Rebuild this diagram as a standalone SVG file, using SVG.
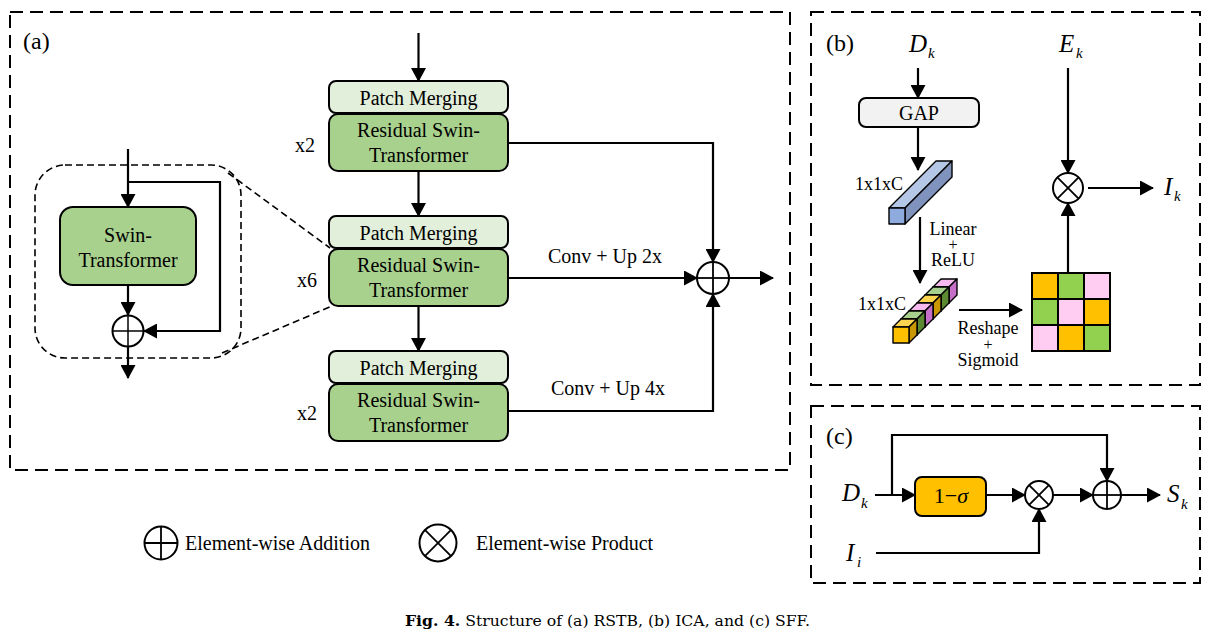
<svg xmlns="http://www.w3.org/2000/svg" width="1212" height="638" viewBox="0 0 1212 638">
<style>
text{font-family:"Liberation Serif","Times New Roman",serif;fill:#000}
.t20{font-size:20px}
.t18{font-size:18px}
.c{text-anchor:middle}
.it{font-style:italic}
.panel{fill:none;stroke:#000;stroke-width:2;stroke-dasharray:13 7}
.dash{fill:none;stroke:#000;stroke-width:1.6;stroke-dasharray:7 4}
.pm{fill:#e2efda;stroke:#000;stroke-width:2}
.rs{fill:#a9d18e;stroke:#000;stroke-width:2}
.ln{fill:none;stroke:#000;stroke-width:2.2}
.op{fill:#fff;stroke:#000;stroke-width:2}
.cube{stroke:#000;stroke-width:1.4;stroke-linejoin:round}
</style>
<defs>
<marker id="arr" markerUnits="userSpaceOnUse" markerWidth="14" markerHeight="15" viewBox="0 0 14 15" refX="13" refY="7.5" orient="auto">
<path d="M0,0 L14,7.5 L0,15 z" fill="#000"/>
</marker>
</defs>
<rect fill="#fff" x="0" y="0" width="1212" height="638"/>

<!-- panel borders -->
<rect class="panel" x="10" y="12" width="780" height="458"/>
<rect class="panel" x="811" y="12" width="389" height="373"/>
<rect class="panel" x="811" y="406" width="389" height="177"/>
<text x="23" y="49" style="font-size:24px">(a)</text>
<text x="826" y="51" style="font-size:24px">(b)</text>
<text x="826" y="444" style="font-size:24px">(c)</text>

<!-- panel a: inset -->
<g id="inset">
<rect class="dash" x="35" y="165" width="206" height="193" rx="30"/>
<line class="dash" x1="228" y1="173" x2="330" y2="248"/>
<line class="dash" x1="222" y1="353" x2="332" y2="306"/>
</g>
<g id="swin">
<rect class="rs" x="60" y="207" width="136" height="78" rx="13"/>
<text class="t20 c" x="128" y="242">Swin-</text>
<text class="t20 c" x="128" y="267">Transformer</text>
</g>
<g id="inset-add">
<circle class="op" cx="128" cy="331" r="15.5"/>
<line class="ln" x1="112.5" y1="331" x2="143.5" y2="331" style="stroke-width:1.5"/>
<line class="ln" x1="128" y1="315.5" x2="128" y2="346.5" style="stroke-width:1.5"/>
</g>

<!-- panel a: stages -->
<g id="stage1">
<rect class="pm" x="329" y="81" width="179" height="32" rx="7"/>
<text class="t20 c" x="418.5" y="105">Patch Merging</text>
<rect class="rs" x="329" y="114" width="179" height="57" rx="9"/>
<text class="t20 c" x="418.5" y="137">Residual Swin-</text>
<text class="t20 c" x="418.5" y="162">Transformer</text>
<text class="t20" x="295" y="152">x2</text>
</g>
<g id="stage2">
<rect class="pm" x="329" y="216" width="179" height="32" rx="7"/>
<text class="t20 c" x="418.5" y="240">Patch Merging</text>
<rect class="rs" x="329" y="249" width="179" height="57" rx="9"/>
<text class="t20 c" x="418.5" y="272">Residual Swin-</text>
<text class="t20 c" x="418.5" y="297">Transformer</text>
<text class="t20" x="297" y="287">x6</text>
</g>
<g id="stage3">
<rect class="pm" x="329" y="351" width="179" height="32" rx="7"/>
<text class="t20 c" x="418.5" y="375">Patch Merging</text>
<rect class="rs" x="329" y="384" width="179" height="57" rx="9"/>
<text class="t20 c" x="418.5" y="407">Residual Swin-</text>
<text class="t20 c" x="418.5" y="432">Transformer</text>
<text class="t20" x="297" y="420">x2</text>
</g>
<g id="add-a">
<circle class="op" cx="713" cy="278" r="16"/>
<line class="ln" x1="697" y1="278" x2="729" y2="278" style="stroke-width:1.8"/>
<line class="ln" x1="713" y1="262" x2="713" y2="294" style="stroke-width:1.8"/>
</g>
<text class="t20 c" x="605" y="263">Conv + Up 2x</text>
<text class="t20 c" x="608" y="395">Conv + Up 4x</text>

<!-- panel b nodes -->
<g id="b-labels">
<text class="it" x="909" y="52" style="font-size:25px">D</text>
<text class="it" x="928" y="58" style="font-size:15px">k</text>
<text class="it" x="1059" y="52" style="font-size:25px">E</text>
<text class="it" x="1076" y="58" style="font-size:15px">k</text>
<text class="it" x="1164" y="195" style="font-size:25px">I</text>
<text class="it" x="1174" y="201" style="font-size:15px">k</text>
</g>
<g id="gap">
<rect x="859" y="98" width="120" height="29" rx="7" fill="#f2f2f2" stroke="#000" stroke-width="2"/>
<text class="t20 c" x="919" y="120">GAP</text>
</g>
<g id="bluebar">
<polygon class="cube" fill="#b4c7e7" points="889,208 905,208 952,161 936,161"/>
<polygon class="cube" fill="#7f93bd" points="905,208 952,161 952,177 905,224"/>
<rect class="cube" fill="#8faadc" x="889" y="208" width="16" height="16"/>
<text class="t18" x="855" y="190">1x1xC</text>
</g>
<g id="lin-label">
<text class="t18 c" x="953" y="235">Linear</text>
<text class="c" x="953" y="250" style="font-size:16px">+</text>
<text class="t18 c" x="953" y="266">ReLU</text>
</g>
<g id="cubebar">
<g transform="translate(40,-40)">
<polygon class="cube" fill="#f7b9ee" points="893,327 909,327 917,319 901,319"/>
<polygon class="cube" fill="#c56fc8" points="909,327 917,319 917,335 909,343"/>
<rect class="cube" fill="#f7b9ee" x="893" y="327" width="16" height="16"/>
</g>
<g transform="translate(32,-32)">
<polygon class="cube" fill="#a9d18e" points="893,327 909,327 917,319 901,319"/>
<polygon class="cube" fill="#5b8a33" points="909,327 917,319 917,335 909,343"/>
<rect class="cube" fill="#92d050" x="893" y="327" width="16" height="16"/>
</g>
<g transform="translate(24,-24)">
<polygon class="cube" fill="#ffd54f" points="893,327 909,327 917,319 901,319"/>
<polygon class="cube" fill="#c99700" points="909,327 917,319 917,335 909,343"/>
<rect class="cube" fill="#ffc000" x="893" y="327" width="16" height="16"/>
</g>
<g transform="translate(16,-16)">
<polygon class="cube" fill="#f7b9ee" points="893,327 909,327 917,319 901,319"/>
<polygon class="cube" fill="#c56fc8" points="909,327 917,319 917,335 909,343"/>
<rect class="cube" fill="#f7b9ee" x="893" y="327" width="16" height="16"/>
</g>
<g transform="translate(8,-8)">
<polygon class="cube" fill="#a9d18e" points="893,327 909,327 917,319 901,319"/>
<polygon class="cube" fill="#5b8a33" points="909,327 917,319 917,335 909,343"/>
<rect class="cube" fill="#92d050" x="893" y="327" width="16" height="16"/>
</g>
<g>
<polygon class="cube" fill="#ffd54f" points="893,327 909,327 917,319 901,319"/>
<polygon class="cube" fill="#c99700" points="909,327 917,319 917,335 909,343"/>
<rect class="cube" fill="#ffc000" x="893" y="327" width="16" height="16"/>
</g>
<text class="t18" x="858" y="310">1x1xC</text>
</g>
<g id="resh-label">
<text class="t18 c" x="988" y="334">Reshape</text>
<text class="c" x="988" y="350" style="font-size:16px">+</text>
<text class="t18 c" x="988" y="366">Sigmoid</text>
</g>
<g id="grid" stroke="#000" stroke-width="2">
<rect x="1032" y="273" width="26" height="26" fill="#ffc000"/>
<rect x="1058" y="273" width="26" height="26" fill="#92d050"/>
<rect x="1084" y="273" width="26" height="26" fill="#ffccf2"/>
<rect x="1032" y="299" width="26" height="26" fill="#92d050"/>
<rect x="1058" y="299" width="26" height="26" fill="#ffccf2"/>
<rect x="1084" y="299" width="26" height="26" fill="#ffc000"/>
<rect x="1032" y="325" width="26" height="26" fill="#ffccf2"/>
<rect x="1058" y="325" width="26" height="26" fill="#ffc000"/>
<rect x="1084" y="325" width="26" height="26" fill="#92d050"/>
</g>
<g id="mul-b">
<circle class="op" cx="1068" cy="188" r="15"/>
<line class="ln" x1="1057.4" y1="177.4" x2="1078.6" y2="198.6" style="stroke-width:1.8"/>
<line class="ln" x1="1078.6" y1="177.4" x2="1057.4" y2="198.6" style="stroke-width:1.8"/>
</g>

<!-- panel c nodes -->
<g id="c-labels">
<text class="it" x="842" y="501" style="font-size:25px">D</text>
<text class="it" x="861" y="508" style="font-size:15px">k</text>
<text class="it" x="846" y="561" style="font-size:25px">I</text>
<text class="it" x="857" y="567" style="font-size:15px">i</text>
<text class="it" x="1167" y="502" style="font-size:25px">S</text>
<text class="it" x="1181" y="509" style="font-size:15px">k</text>
</g>
<g id="oneminus">
<rect x="915" y="477" width="71" height="39" rx="7" fill="#ffc000" stroke="#000" stroke-width="2"/>
<text x="951" y="503" class="c" style="font-size:22px">1−<tspan class="it">σ</tspan></text>
</g>
<g id="mul-c">
<circle class="op" cx="1039" cy="495" r="14"/>
<line class="ln" x1="1029.1" y1="485.1" x2="1048.9" y2="504.9" style="stroke-width:1.8"/>
<line class="ln" x1="1048.9" y1="485.1" x2="1029.1" y2="504.9" style="stroke-width:1.8"/>
</g>
<g id="add-c">
<circle class="op" cx="1107" cy="495" r="14"/>
<line class="ln" x1="1093" y1="495" x2="1121" y2="495" style="stroke-width:1.8"/>
<line class="ln" x1="1107" y1="481" x2="1107" y2="509" style="stroke-width:1.8"/>
</g>

<!-- legend -->
<g id="legend">
<circle class="op" cx="161" cy="543" r="16.5"/>
<line class="ln" x1="144.5" y1="543" x2="177.5" y2="543" style="stroke-width:1.8"/>
<line class="ln" x1="161" y1="526.5" x2="161" y2="559.5" style="stroke-width:1.8"/>
<text class="t20" x="185" y="550">Element-wise Addition</text>
<circle class="op" cx="438" cy="543" r="18.5"/>
<line class="ln" x1="424.9" y1="529.9" x2="451.1" y2="556.1" style="stroke-width:1.8"/>
<line class="ln" x1="451.1" y1="529.9" x2="424.9" y2="556.1" style="stroke-width:1.8"/>
<text class="t20" x="476" y="550">Element-wise Product</text>
</g>

<!-- connectors -->
<g id="connectors" class="ln" fill="none" stroke="#000">
<line x1="128" y1="149" x2="128" y2="207" marker-end="url(#arr)"/>
<polyline points="128,182 220,182 220,331 144,331" marker-end="url(#arr)"/>
<line x1="128" y1="285" x2="128" y2="315" marker-end="url(#arr)"/>
<line x1="128" y1="346" x2="128" y2="378" marker-end="url(#arr)"/>
<line x1="418.5" y1="33" x2="418.5" y2="81" marker-end="url(#arr)"/>
<line x1="418.5" y1="171" x2="418.5" y2="216" marker-end="url(#arr)"/>
<line x1="418.5" y1="306" x2="418.5" y2="351" marker-end="url(#arr)"/>
<polyline points="508,143 713,143 713,262" marker-end="url(#arr)"/>
<line x1="508" y1="278" x2="697" y2="278" marker-end="url(#arr)"/>
<polyline points="508,411 713,411 713,294" marker-end="url(#arr)"/>
<line x1="729" y1="278" x2="773" y2="278" marker-end="url(#arr)"/>
<line x1="918" y1="68" x2="918" y2="98" marker-end="url(#arr)"/>
<line x1="918" y1="127" x2="918" y2="170" marker-end="url(#arr)"/>
<line x1="920" y1="217" x2="920" y2="283" marker-end="url(#arr)"/>
<line x1="959" y1="310" x2="1022" y2="310" marker-end="url(#arr)"/>
<line x1="1068" y1="273" x2="1068" y2="203" marker-end="url(#arr)"/>
<line x1="1068" y1="68" x2="1068" y2="173" marker-end="url(#arr)"/>
<line x1="1088" y1="188" x2="1153" y2="188" marker-end="url(#arr)"/>
<polyline points="892,495 892,435 1107,435 1107,481" marker-end="url(#arr)"/>
<line x1="875" y1="495" x2="915" y2="495" marker-end="url(#arr)"/>
<line x1="986" y1="495" x2="1025" y2="495" marker-end="url(#arr)"/>
<line x1="1053" y1="495" x2="1093" y2="495" marker-end="url(#arr)"/>
<line x1="1121" y1="495" x2="1160" y2="495" marker-end="url(#arr)"/>
<polyline points="876,553 1039,553 1039,509" marker-end="url(#arr)"/>
</g>

<!-- caption -->
<text x="405" y="626" style="font-family:'DejaVu Serif','Liberation Serif',serif;font-size:15px" textLength="405" lengthAdjust="spacingAndGlyphs"><tspan font-weight="bold">Fig. 4.</tspan>  Structure of (a) RSTB, (b) ICA, and (c) SFF.</text>
</svg>
